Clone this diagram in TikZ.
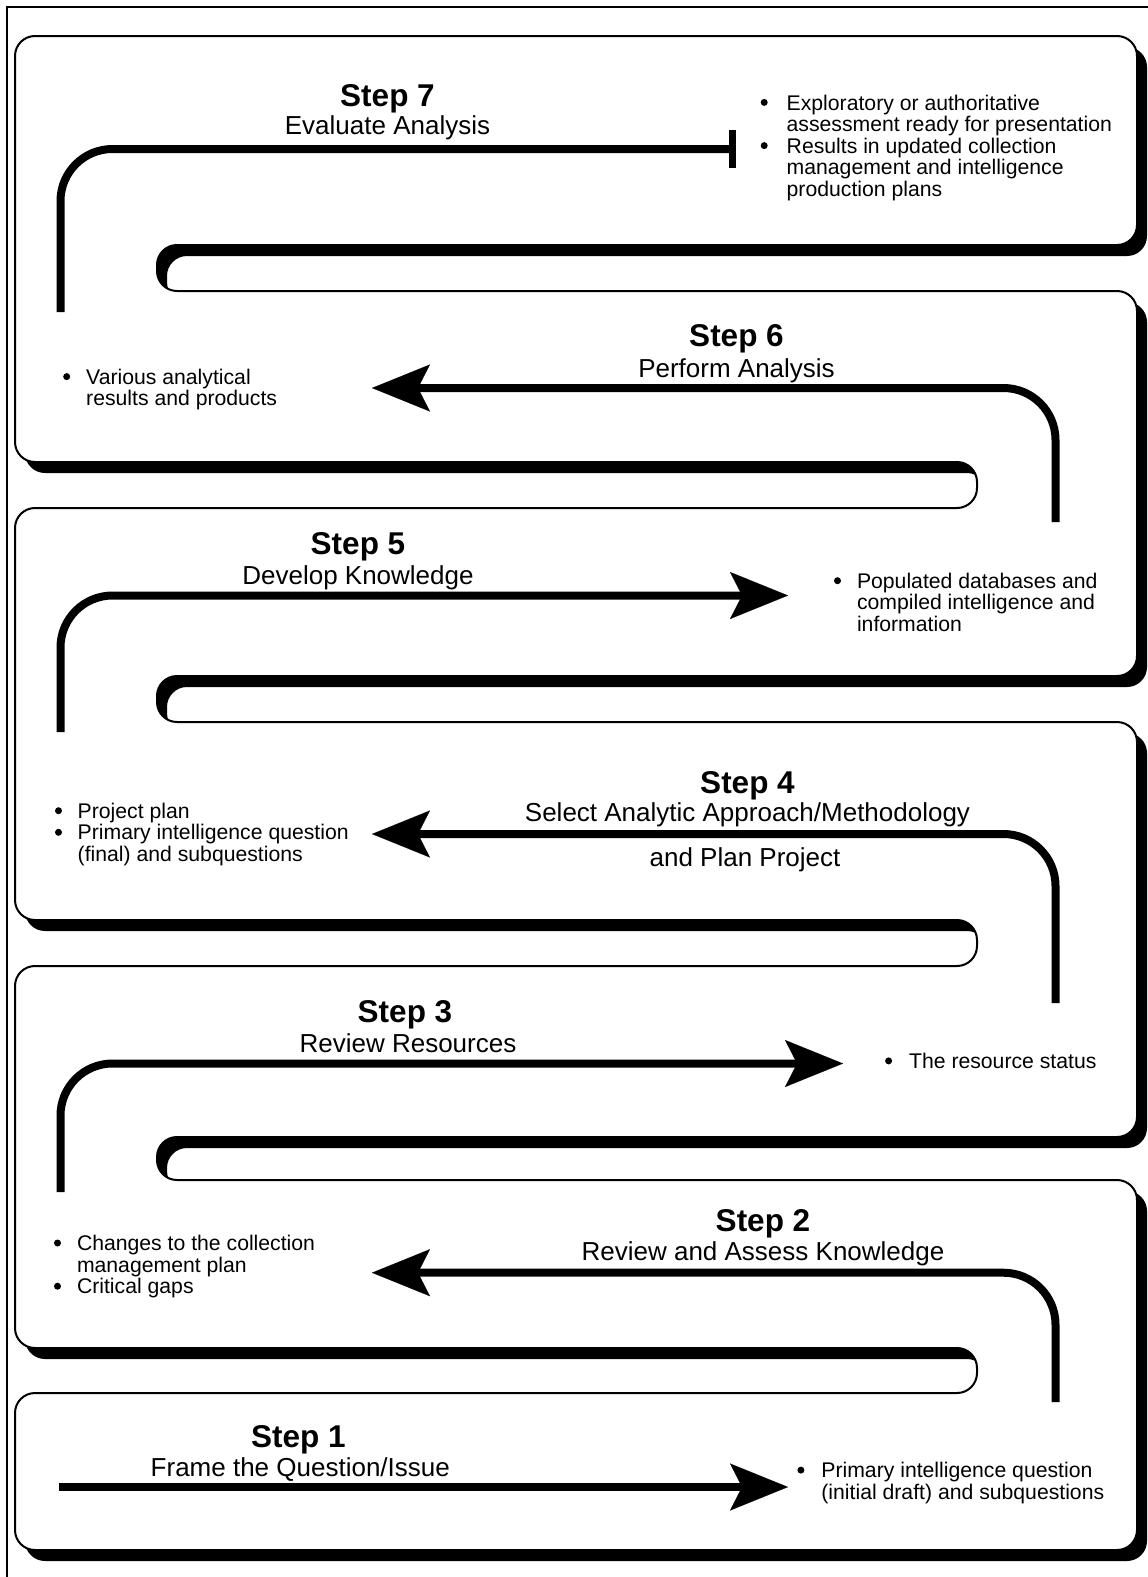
\documentclass[tikz,border=0pt]{standalone}
\usepackage{fontspec}
\setmainfont{Liberation Sans}
\usetikzlibrary{arrows.meta}
\newcommand\bdot{\tikz[baseline=0pt]\fill (3.5pt,7.6pt) circle (3.5pt);}
\begin{document}
\begin{tikzpicture}[x=1pt,y=-1pt,
  ttl/.style={font=\fontsize{31.5}{31.5}\selectfont\bfseries, inner sep=0pt, anchor=base},
  sub/.style={font=\fontsize{26}{26}\selectfont, inner sep=0pt, anchor=base},
  bul/.style={font=\fontsize{21.2}{20.8}\selectfont, inner sep=0pt, anchor=base west},
  flow/.style={line width=8pt, rounded corners=52pt},
  arr/.style={flow, -{Stealth[length=58pt,width=47pt,inset=12pt,line width=0.1pt]}},
  band/.style={rounded corners=20pt},
]
\useasboundingbox (0,0) rectangle (1148,1577);
\fill[white] (0,0) rectangle (1148,1577);
% outer frame
\draw[line width=2.5pt] (7,1577) -- (7,7) -- (1148,7);
% serpentine band
\def\snake{(500,36) -- (1137,36) -- (1137,245) -- (157,245) -- (157,291) -- (1137,291) -- (1137,676) -- (157,676) -- (157,722) -- (1137,722) -- (1137,1137) -- (157,1137) -- (157,1180) -- (1137,1180) -- (1137,1550) -- (15,1550) -- (15,1393) -- (977,1393) -- (977,1348) -- (15,1348) -- (15,966) -- (977,966) -- (977,920) -- (15,920) -- (15,508) -- (977,508) -- (977,462) -- (15,462) -- (15,36) -- cycle}
\fill[black, band, shift={(10,11)}] \snake;
\filldraw[fill=white, draw=black, line width=2pt, band] \snake;
% flow coordinates
\coordinate (s1) at (59,1487);   \coordinate (e1) at (788,1487);
\coordinate (s2) at (1055.5,1402); \coordinate (e2) at (372,1272.7);
\coordinate (s3) at (60.5,1192); \coordinate (e3) at (843,1063.5);
\coordinate (s4) at (1055.5,1003); \coordinate (e4) at (372,834);
\coordinate (s5) at (60.5,732);  \coordinate (e5) at (788,595.5);
\coordinate (s6) at (1055.5,522); \coordinate (e6) at (372,388);
\coordinate (s7) at (60.5,312);  \coordinate (e7) at (729,149);
\draw[arr] (s1) -- (e1);
\draw[arr] (s2) |- (e2);
\draw[arr] (s3) |- (e3);
\draw[arr] (s4) |- (e4);
\draw[arr] (s5) |- (e5);
\draw[arr] (s6) |- (e6);
\draw[flow] (s7) |- (e7);
\draw[line width=7.5pt] ([xshift=3.5pt,yshift=19pt]e7) -- ([xshift=3.5pt,yshift=-19pt]e7);
% step titles
\node[ttl] (t7) at (387.5,106) {Step 7};
\node[sub] (u7) at (387.5,134) {Evaluate Analysis};
\node[ttl] (t6) at (736.5,346) {Step 6};
\node[sub] (u6) at (736.5,377) {Perform Analysis};
\node[ttl] (t5) at (358,554) {Step 5};
\node[sub] (u5) at (358,584) {Develop Knowledge};
\node[ttl] (t4) at (747.5,793) {Step 4};
\node[sub] (u4) at (747.5,821.3) {Select Analytic Approach/Methodology};
\node[sub] (v4) at (745,866) {and Plan Project};
\node[ttl] (t3) at (405,1022) {Step 3};
\node[sub] (u3) at (408,1052) {Review Resources};
\node[ttl] (t2) at (763,1231) {Step 2};
\node[sub] (u2) at (763,1260.5) {Review and Assess Knowledge};
\node[ttl] (t1) at (298.3,1447.7) {Step 1};
\node[sub] (u1) at (300.3,1476) {Frame the Question/Issue};
% bullet lists
\node[bul] (b7) at (760.5,110) {\begin{tabular}[t]{@{}l@{\hspace{19pt}}l@{}}\bdot & Exploratory or authoritative\\ & assessment ready for presentation\\ \bdot & Results in updated collection\\ & management and intelligence\\ & production plans\end{tabular}};
\node[bul] (b6) at (63,384.2) {\begin{tabular}[t]{@{}l@{\hspace{16pt}}l@{}}\bdot & Various analytical\\ & results and products\end{tabular}};
\node[bul] (b5) at (833.8,588.3) {\begin{tabular}[t]{@{}l@{\hspace{16pt}}l@{}}\bdot & Populated databases and\\ & compiled intelligence and\\ & information\end{tabular}};
\node[bul] (b4) at (54.8,818.3) {\begin{tabular}[t]{@{}l@{\hspace{15.7pt}}l@{}}\bdot & Project plan\\ \bdot & Primary intelligence question\\ & (final) and subquestions\end{tabular}};
\node[bul] (b3) at (884.9,1068.5) {\begin{tabular}[t]{@{}l@{\hspace{17pt}}l@{}}\bdot & The resource status\end{tabular}};
\node[bul] (b2) at (53.8,1250.6) {\begin{tabular}[t]{@{}l@{\hspace{16pt}}l@{}}\bdot & Changes to the collection\\ & management plan\\ \bdot & Critical gaps\end{tabular}};
\node[bul] (b1) at (797.2,1477.7) {\begin{tabular}[t]{@{}l@{\hspace{17pt}}l@{}}\bdot & Primary intelligence question\\ & (initial draft) and subquestions\end{tabular}};
\end{tikzpicture}
\end{document}
